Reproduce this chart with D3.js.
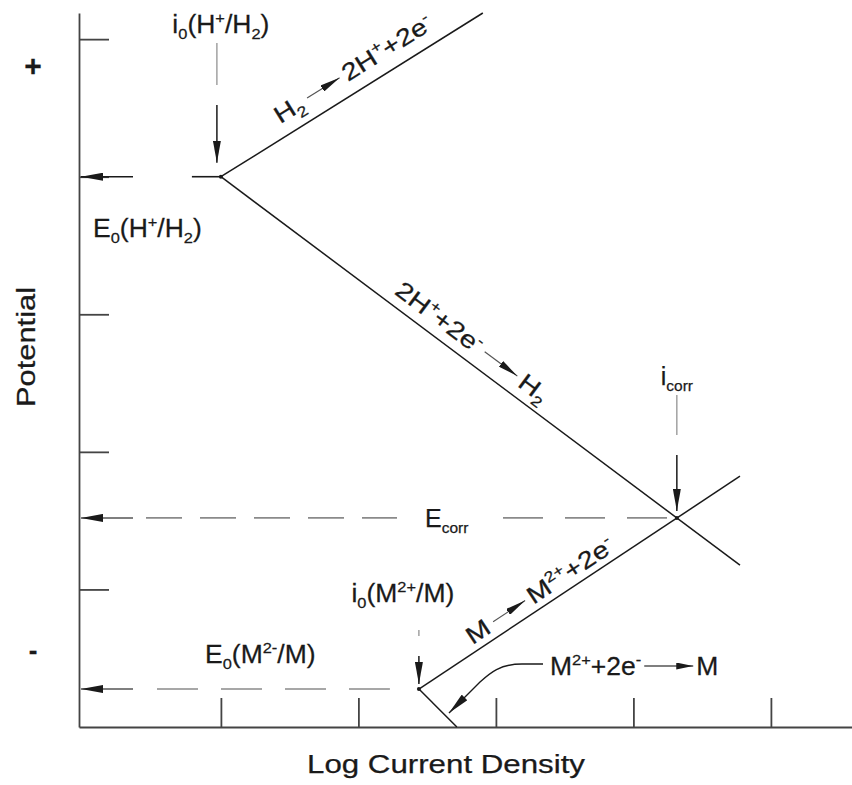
<!DOCTYPE html>
<html>
<head>
<meta charset="utf-8">
<script src="https://cdn.jsdelivr.net/npm/d3@7"></script>
<style>
  body { margin: 0; background: #fff; }
  svg { display: block; font-family: "Liberation Sans", Arial, sans-serif; }
  svg text { stroke: #1a1a1a; stroke-width: 0.25px; }
</style>
</head>
<body>
<svg id="chart" width="852" height="785"></svg>
<script>
(function(){
  //axis ticks (log current density / potential, arbitrary units)
  const xTicks = [1, 2, 3, 4, 5];
  const yTicks = [1, 2, 3, 4, 5];

  //equilibrium and mixed potentials, with the current where each meets its curves
  const levelNames = ['E0(H+/H2)', 'Ecorr', 'E0(M2+/M)'];
  const levelPotential = [4.0, 1.52, 0.276];
  const levelCurrent = [1.0, 4.316, 2.44];

  //Tafel branches: start and end as [log i, E]
  const branchNames = ['H2 oxidation', 'H+ reduction', 'M oxidation', 'M reduction'];
  const branchStart = [[1.0, 4.0], [1.0, 4.0], [2.44, 0.276], [2.44, 0.276]];
  const branchEnd = [[2.905, 5.19], [4.775, 1.176], [4.775, 1.823], [2.716, 0]];

  const svg = d3.select('#chart');

  const xScale = d3.scaleLinear().domain([-0.032, 5.6]).range([79, 853.4]);
  const yScale = d3.scaleLinear().domain([0, 5.19]).range([727, 13]);
  const axisX = xScale.range()[0], axisY = yScale.range()[0];
  const ink = '#1a1a1a', grey = '#8a8a8a';

  //arrow heads
  const defs = svg.append('defs');
  function head(id, len, half){
    defs.append('marker')
      .attr('id', id)
      .attr('viewBox', `${-len} ${-half} ${len} ${half * 2}`)
      .attr('refX', 0).attr('refY', 0)
      .attr('markerWidth', len).attr('markerHeight', half * 2)
      .attr('markerUnits', 'userSpaceOnUse')
      .attr('orient', 'auto')
      .append('path')
      .attr('d', `M0,0L${-len},${-half}L${-len},${half}Z`)
      .attr('fill', ink);
  }
  head('head', 22, 4);
  head('headSmall', 17, 3.5);

  //axes, ticks pointing inward
  svg.append('g')
    .attr('class', 'axis')
    .attr('transform', `translate(0,${axisY})`)
    .call(d3.axisBottom(xScale).tickValues(xTicks).tickSizeInner(-29).tickSizeOuter(0).tickFormat(''));
  svg.append('g')
    .attr('class', 'axis')
    .attr('transform', `translate(${axisX},0)`)
    .call(d3.axisLeft(yScale).tickValues(yTicks).tickSizeInner(-30).tickSizeOuter(0).tickFormat(''));
  svg.selectAll('.axis path, .axis line').attr('stroke', '#444').attr('stroke-width', 1.8);

  //text with sub/superscripts; segs = [[string, ''|'sub'|'sup'], ...]
  function rich(sel, segs, size){
    let shift = 0;
    segs.forEach(([s, k]) => {
      const target = k === 'sub' ? size * 0.25 : k === 'sup' ? -size * 0.4 : 0;
      sel.append('tspan')
        .attr('dy', target - shift)
        .attr('font-size', k ? size * 0.62 : size)
        .text(s);
      shift = target;
    });
    return sel;
  }

  function label(x, y, segs, opts){
    opts = opts || {};
    const size = opts.size || 25, sx = opts.sx || 1.06;
    const g = svg.append('g').attr('transform', `translate(${x},${y}) scale(${sx},1)`);
    const t = g.append('text').attr('fill', ink).attr('text-anchor', opts.anchor || 'start');
    rich(t, segs, size);
    return t;
  }

  //branch lines
  svg.append('g').selectAll('line')
    .data(branchNames)
    .enter()
    .append('line')
    .attr('class', (d, i) => 'branch b' + i)
    .attr('x1', (d, i) => xScale(branchStart[i][0]))
    .attr('y1', (d, i) => yScale(branchStart[i][1]))
    .attr('x2', (d, i) => xScale(branchEnd[i][0]))
    .attr('y2', (d, i) => yScale(branchEnd[i][1]))
    .attr('stroke', ink)
    .attr('stroke-width', 1.5);

  svg.append('g').selectAll('circle')
    .data(levelNames)
    .enter()
    .append('circle')
    .attr('cx', (d, i) => xScale(levelCurrent[i]))
    .attr('cy', (d, i) => yScale(levelPotential[i]))
    .attr('r', 2)
    .attr('fill', ink);

  //potential levels back to the axis
  levelNames.forEach((name, i) => {
    const y = yScale(levelPotential[i]), xe = xScale(levelCurrent[i]);
    svg.append('line')
      .attr('x1', axisX + 54).attr('x2', axisX + 2)
      .attr('y1', y).attr('y2', y)
      .attr('stroke', i === 0 ? ink : '#555').attr('stroke-width', 1.5)
      .attr('marker-end', 'url(#head)');
    let segs;
    if (i === 0) segs = [[xe, xe - 29, null, ink]];
    else if (i === 1) segs = [[axisX + 67, axisX + 318, '36,18', grey], [axisX + 424, xe, '40,22', grey]];
    else segs = [[axisX + 78, xe - 29, '41,23', grey]];
    segs.forEach(s => {
      svg.append('line')
        .attr('x1', s[0]).attr('x2', s[1]).attr('y1', y).attr('y2', y)
        .attr('stroke', s[3]).attr('stroke-width', 1.6)
        .attr('stroke-dasharray', s[2]);
    });
  });

  //vertical current markers
  function currentArrow(x, top, mid, tip){
    svg.append('line').attr('x1', x).attr('x2', x).attr('y1', top).attr('y2', mid - 20)
      .attr('stroke', grey).attr('stroke-width', 1.2);
    svg.append('line').attr('x1', x).attr('x2', x).attr('y1', mid).attr('y2', tip)
      .attr('stroke', ink).attr('stroke-width', 1.5)
      .attr('marker-end', 'url(#head)');
  }
  const xI0H = xScale(levelCurrent[0]), yE0H = yScale(levelPotential[0]);
  const xCorr = xScale(levelCurrent[1]), yCorr = yScale(levelPotential[1]);
  const xI0M = xScale(levelCurrent[2]), yE0M = yScale(levelPotential[2]);

  currentArrow(xI0H - 4, 43, 105, yE0H - 14);
  currentArrow(xCorr, 395, 455, yCorr - 7);
  currentArrow(xI0M, 630, 656, yE0M - 5);

  //horizontal labels
  label(xI0H, 33, [['i', ''], ['0', 'sub'], ['(H', ''], ['+', 'sup'], ['/H', ''], ['2', 'sub'], [')', '']], {anchor: 'middle'});
  label(axisX + 14, yE0H + 60, [['E', ''], ['0', 'sub'], ['(H', ''], ['+', 'sup'], ['/H', ''], ['2', 'sub'], [')', '']]);
  label(xCorr, 385, [['i', ''], ['corr', 'sub']], {anchor: 'middle', sx: 1});
  label(axisX + 346, yCorr + 9, [['E', ''], ['corr', 'sub']], {sx: 1});
  label(xI0M - 16, 602, [['i', ''], ['0', 'sub'], ['(M', ''], ['2+', 'sup'], ['/M)', '']], {anchor: 'middle'});
  label(axisX + 126, yE0M - 26, [['E', ''], ['0', 'sub'], ['(M', ''], ['2-', 'sup'], ['/M)', '']]);

  //M2+ + 2e- -> M with its curved pointer
  const mx = 550, my = 675;
  const mt = label(mx, my, [['M', ''], ['2+', 'sup'], ['+2e', ''], ['-', 'sup']]);
  const mw = mt.node().getComputedTextLength() * 1.06;
  svg.append('line')
    .attr('x1', mx + mw + 3).attr('x2', mx + mw + 52)
    .attr('y1', my - 9).attr('y2', my - 9)
    .attr('stroke', '#555').attr('stroke-width', 1.3)
    .attr('marker-end', 'url(#headSmall)');
  label(mx + mw + 55, my, [['M', '']]);
  svg.append('path')
    .attr('d', `M${mx - 7},${my - 11}L${mx - 28},${my - 11}C${mx - 50},${my - 11} ${mx - 60},${my - 2} ${mx - 70},${my + 7}L${mx - 101},${my + 38}`)
    .attr('fill', 'none')
    .attr('stroke', ink).attr('stroke-width', 1.4)
    .attr('marker-end', 'url(#head)');

  //reaction labels laid along their branch
  function reaction(i, along, offset, pieces){
    const x0 = xScale(branchStart[i][0]), y0 = yScale(branchStart[i][1]);
    const x1 = xScale(branchEnd[i][0]), y1 = yScale(branchEnd[i][1]);
    const a = Math.atan2(y1 - y0, x1 - x0);
    const ax = x0 + along * Math.cos(a) + offset * Math.sin(a);
    const ay = y0 + along * Math.sin(a) - offset * Math.cos(a);
    const g = svg.append('g')
      .attr('transform', `translate(${ax},${ay}) rotate(${a * 180 / Math.PI}) scale(1.2,1)`);
    let x = 0;
    pieces.forEach(p => {
      if (p.arrow){
        g.append('line')
          .attr('x1', x + 2).attr('x2', x + p.arrow)
          .attr('y1', -8).attr('y2', -8)
          .attr('stroke', '#555').attr('stroke-width', 1.2)
          .attr('marker-end', 'url(#headSmall)');
        x += p.arrow + 4;
      } else {
        const t = g.append('text').attr('x', x).attr('y', 0).attr('fill', ink);
        rich(t, p.segs, 24);
        x += t.node().getComputedTextLength() + 3;
      }
    });
  }
  reaction(0, 78, 13, [
    {segs: [['H', ''], ['2', 'sub']]},
    {arrow: 34},
    {segs: [['2H', ''], ['+', 'sup'], ['+2e', ''], ['-', 'sup']]}
  ]);
  reaction(1, 208, 10, [
    {segs: [['2H', ''], ['+', 'sup'], ['+2e', ''], ['-', 'sup']]},
    {arrow: 36},
    {segs: [['H', ''], ['2', 'sub']]}
  ]);
  reaction(2, 69, 7, [
    {segs: [['M', '']]},
    {arrow: 34},
    {segs: [['M', ''], ['2+', 'sup'], ['+2e', ''], ['-', 'sup']]}
  ]);

  //axis signs and titles
  svg.append('text').attr('x', 33).attr('y', 76).attr('text-anchor', 'middle')
    .attr('font-size', 30).attr('font-weight', 'bold').attr('fill', ink).text('+');
  svg.append('text').attr('x', 33).attr('y', 659).attr('text-anchor', 'middle')
    .attr('font-size', 26).attr('font-weight', 'bold').attr('fill', ink).text('-');

  svg.append('text')
    .attr('transform', 'translate(35,347) rotate(-90)')
    .attr('text-anchor', 'middle')
    .attr('font-size', 25).attr('fill', ink)
    .attr('textLength', 120).attr('lengthAdjust', 'spacingAndGlyphs')
    .text('Potential');
  svg.append('text')
    .attr('x', 446).attr('y', 773)
    .attr('text-anchor', 'middle')
    .attr('font-size', 25).attr('fill', ink)
    .attr('textLength', 278).attr('lengthAdjust', 'spacingAndGlyphs')
    .text('Log Current Density');
})();
</script>
</body>
</html>
